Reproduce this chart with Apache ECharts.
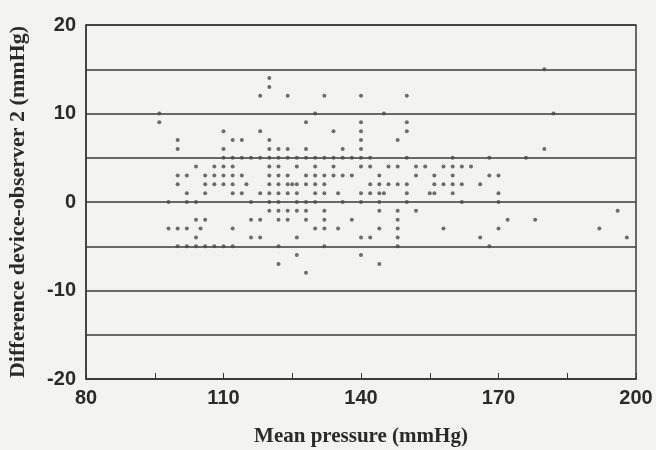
<!DOCTYPE html>
<html>
<head>
<meta charset="utf-8">
<script src="https://cdn.jsdelivr.net/npm/echarts@6/dist/echarts.min.js"></script>
<style>
  html, body { margin: 0; padding: 0; background: #f3f3f1; }
  #chart { width: 656px; height: 450px; }
</style>
</head>
<body>
<div id="chart"></div>
<script>
// mean pressure values (mmHg) of the points, one array per difference level
const d15 = [180];
const d14 = [120];
const d13 = [120];
const d12 = [118, 124, 132, 140, 150];
const d10 = [96, 130, 145, 182];
const d9 = [96, 128, 140, 150];
const d8 = [110, 118, 134, 140, 150];
const d7 = [100, 112, 114, 120, 140, 148];
const d6 = [100, 110, 120, 122, 124, 128, 136, 140, 180];
const d5 = [110, 112, 114, 116, 118, 120, 122, 124, 126, 128, 130, 132, 134, 136, 138, 140, 142, 150, 160, 168, 176];
const d4 = [104, 108, 110, 112, 120, 122, 126, 130, 134, 140, 142, 146, 148, 152, 154, 158, 160, 162, 164];
const d3 = [100, 102, 106, 108, 110, 112, 114, 120, 122, 124, 128, 130, 132, 134, 136, 138, 144, 152, 156, 160, 168, 170];
const d2 = [100, 106, 108, 110, 112, 115, 120, 122, 124, 125, 126, 128, 130, 132, 142, 144, 146, 148, 150, 156, 158, 160, 162, 166];
const d1 = [102, 106, 112, 114, 118, 120, 122, 124, 126, 130, 132, 135, 140, 142, 144, 145, 150, 155, 156, 160, 170];
const d0 = [98, 102, 104, 116, 120, 122, 126, 128, 130, 136, 140, 144, 150, 162, 170];
const dm1 = [120, 122, 124, 126, 128, 132, 144, 148, 152, 196];
const dm2 = [104, 106, 116, 118, 122, 124, 128, 132, 138, 148, 172, 178];
const dm3 = [98, 100, 102, 105, 112, 130, 132, 135, 144, 148, 158, 170, 192];
const dm4 = [104, 116, 118, 126, 140, 142, 148, 166, 198];
const dm5 = [100, 102, 104, 106, 108, 110, 112, 122, 132, 148, 168];
const dm6 = [126, 140];
const dm7 = [122, 144];
const dm8 = [128];

const rows = [
  [15, d15], [14, d14], [13, d13], [12, d12], [10, d10], [9, d9], [8, d8],
  [7, d7], [6, d6], [5, d5], [4, d4], [3, d3], [2, d2], [1, d1], [0, d0],
  [-1, dm1], [-2, dm2], [-3, dm3], [-4, dm4], [-5, dm5], [-6, dm6], [-7, dm7], [-8, dm8]
];

const xLabels = [80, 110, 140, 170, 200];
const yLabels = [-20, -10, 0, 10, 20];

let points = [];
rows.forEach(r => {
  r[1].forEach(m => points.push([m, r[0]]));
});

let myChart = echarts.init(document.getElementById('chart'));
let option = {
  backgroundColor: '#f3f3f1',
  animation: false,
  grid: {
    left: 86, right: 20, top: 25, bottom: 71,
    outerBoundsMode: 'none',
    show: true, borderColor: '#3a3a3a', borderWidth: 1.5
  },
  xAxis: {
    type: 'value',
    min: 80, max: 200, interval: 15,
    name: 'Mean pressure (mmHg)',
    nameLocation: 'middle',
    nameGap: 47,
    nameTextStyle: { fontFamily: 'Liberation Serif', fontWeight: 'bold', fontSize: 21, color: '#2a2a2a' },
    axisLine: { onZero: false, lineStyle: { color: '#3a3a3a', width: 1.5 } },
    axisTick: { inside: true, length: 6, lineStyle: { color: '#3a3a3a' } },
    splitLine: { show: false },
    axisLabel: {
      margin: 9,
      fontFamily: 'Liberation Sans', fontWeight: 'bold', fontSize: 20, color: '#2a2a2a',
      formatter: v => xLabels.indexOf(v) >= 0 ? String(v) : ''
    }
  },
  yAxis: {
    type: 'value',
    min: -20, max: 20, interval: 5,
    name: 'Difference device-observer 2 (mmHg)',
    nameLocation: 'middle',
    nameGap: 57,
    nameTextStyle: { fontFamily: 'Liberation Serif', fontWeight: 'bold', fontSize: 22, color: '#2a2a2a' },
    axisLine: { onZero: false, lineStyle: { color: '#3a3a3a', width: 1.5 } },
    axisTick: { show: false },
    splitLine: { lineStyle: { color: '#3a3a3a', width: 1.5 } },
    axisLabel: {
      margin: 10,
      fontFamily: 'Liberation Sans', fontWeight: 'bold', fontSize: 20, color: '#2a2a2a',
      formatter: v => yLabels.indexOf(v) >= 0 ? String(v) : ''
    }
  },
  series: [{
    type: 'scatter',
    data: points,
    symbol: 'circle',
    symbolSize: 4,
    itemStyle: { color: '#4a4a4a' }
  }]
};
option && myChart.setOption(option);
</script>
</body>
</html>
